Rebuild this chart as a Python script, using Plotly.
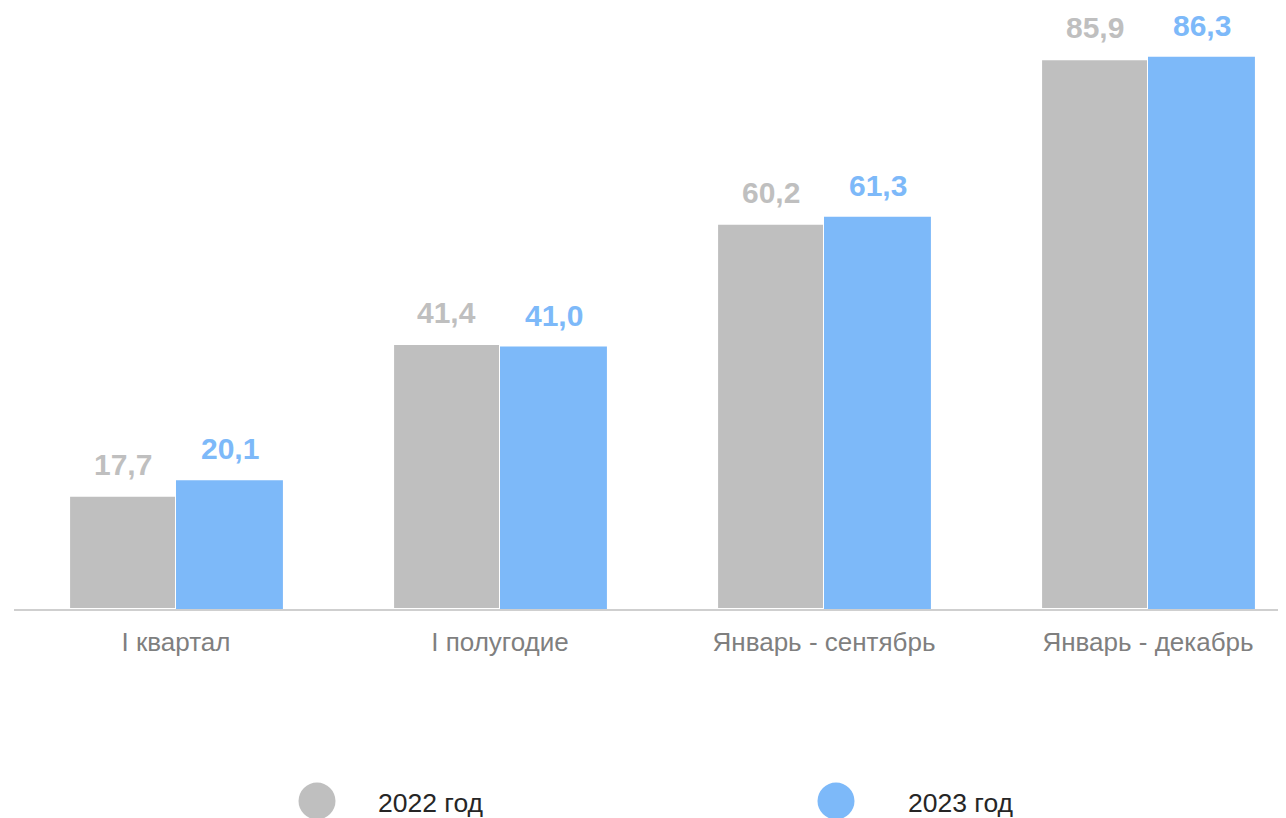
import plotly.graph_objects as go

categories = ["I квартал", "I полугодие", "Январь - сентябрь", "Январь - декабрь"]
series_names = ["2022 год", "2023 год"]
values_2022 = [17.7, 41.4, 60.2, 85.9]
values_2023 = [20.1, 41.0, 61.3, 86.3]

GRAY = "#bfbfbf"
BLUE = "#7db9f9"

OFF = 8  # page body margin
W, H = 1278, 810
ML, MR, MT = 6, 0, 0
BASE = 609 - OFF  # baseline in figure px
MB = H - BASE
PW, PH = W - ML - MR, H - MT - MB
SCALE = 6.4  # px per unit

def fmt(v):
    return f"{v:.1f}".replace(".", ",")

fig = go.Figure()
fig.add_trace(go.Bar(x=categories, y=values_2022, name=series_names[0],
                     marker=dict(color=GRAY, line=dict(color="white", width=2)),
                     showlegend=False))
fig.add_trace(go.Bar(x=categories, y=values_2023, name=series_names[1],
                     marker=dict(color=BLUE, line=dict(width=0)),
                     showlegend=False))

annotations = []
half = 53.5
for cat, v in zip(categories, values_2022):
    annotations.append(dict(x=cat, y=v, xref="x", yref="y", text=fmt(v), showarrow=False,
                            xshift=-half, yshift=13, yanchor="bottom",
                            font=dict(family="Liberation Sans, Arial", size=30, color=GRAY, weight="bold")))
for cat, v in zip(categories, values_2023):
    annotations.append(dict(x=cat, y=v, xref="x", yref="y", text=fmt(v), showarrow=False,
                            xshift=half, yshift=13, yanchor="bottom",
                            font=dict(family="Liberation Sans, Arial", size=30, color=BLUE, weight="bold")))

# manual legend (positions given in screen px)
def px2paper(sx, sy):
    return (sx - OFF - ML) / PW, (BASE - (sy - OFF)) / PH

shapes = []
legend_items = [(series_names[0], GRAY, 317, 377), (series_names[1], BLUE, 836, 907)]
for name, col, cx, tx in legend_items:
    xp, yp = px2paper(cx, 801)
    shapes.append(dict(type="circle", xref="paper", yref="paper", xsizemode="pixel", ysizemode="pixel",
                       xanchor=xp, yanchor=yp, x0=-18.5, x1=18.5, y0=-18.5, y1=18.5,
                       fillcolor=col, line=dict(width=0)))
    txp, typ = px2paper(tx - 1, 803)
    annotations.append(dict(x=txp, y=typ, xref="paper", yref="paper", text=name, showarrow=False,
                            xanchor="left", yanchor="middle",
                            font=dict(family="Liberation Sans, Arial", size=26.5, color="#262626")))

fig.update_layout(
    width=W, height=H,
    margin=dict(l=ML, r=MR, t=MT, b=MB),
    paper_bgcolor="white", plot_bgcolor="white",
    barmode="group", bargap=0.34, bargroupgap=0,
    showlegend=False,
    xaxis=dict(range=[-0.5, -0.5 + PW / 324], showline=True, linecolor="#cfcfcf", linewidth=2,
               ticks="", showgrid=False, zeroline=False, ticklabelstandoff=9,
               tickfont=dict(family="Liberation Sans, Arial", size=26, color="#7f7f7f")),
    yaxis=dict(range=[0, PH / SCALE], visible=False, showgrid=False, zeroline=False),
    annotations=annotations,
    shapes=shapes,
)

fig.write_html("out.html")
